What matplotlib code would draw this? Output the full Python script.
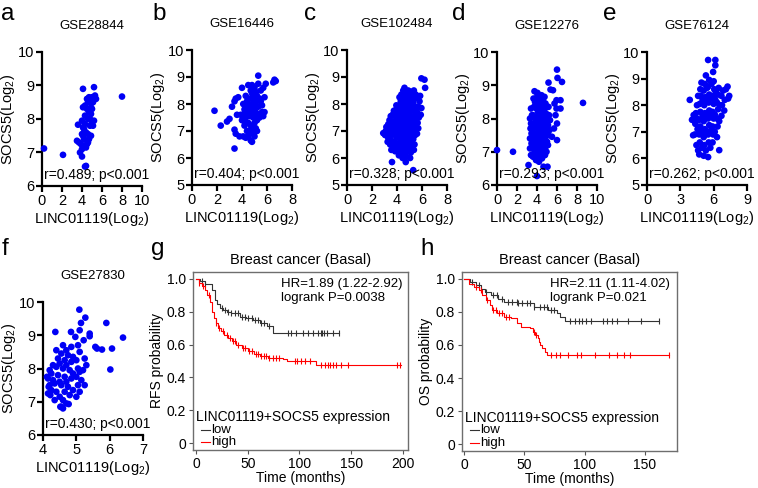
import matplotlib
matplotlib.use('Agg')
import matplotlib.pyplot as plt

plt.rcParams['font.family'] = ['Liberation Sans', 'DejaVu Sans']
plt.rcParams['mathtext.default'] = 'regular'

# ---- scatter data (LINC01119 vs SOCS5, log2) ----
gse28844 = [(0.2, 7.12), (2.1, 6.93), (8.0, 8.67), (3.6, 7.83), (4.1, 8.9), (5.2, 8.95),
            (4.0, 6.88), (3.8, 7.0), (4.3, 6.58), (4.4, 6.6), (3.5, 7.35), (3.7, 7.3),
            (4.0, 7.1), (4.2, 7.4), (4.5, 7.25), (4.7, 7.4), (4.9, 7.5), (4.8, 7.8),
            (5.1, 7.8), (5.2, 7.95), (4.6, 8.0), (4.0, 7.95), (4.2, 7.7), (4.4, 7.6),
            (4.0, 7.55), (4.3, 7.85), (4.7, 8.2), (4.9, 8.15), (5.0, 8.3), (4.6, 8.5),
            (4.8, 8.55), (4.3, 8.4), (4.1, 8.35), (4.5, 8.6), (5.0, 8.65), (5.3, 8.7),
            (5.4, 8.6), (4.7, 8.65), (5.1, 8.5), (4.6, 7.3), (4.2, 7.2), (3.9, 7.25),
            (4.1, 7.5), (4.4, 7.15), (4.6, 7.55), (5.0, 7.9), (4.8, 8.0), (4.1, 7.75),
            (4.5, 8.3), (4.3, 8.1), (4.9, 8.35)]

gse16446 = [(1.8, 7.75), (2.3, 7.2), (2.8, 7.35), (3.0, 7.45), (3.4, 6.35), (3.4, 7.05),
            (3.2, 7.9), (3.4, 8.1), (3.5, 8.2), (3.7, 8.25), (3.6, 7.6), (3.8, 6.8),
            (4.1, 6.8), (3.5, 6.9), (4.3, 6.75), (4.5, 6.8), (4.7, 6.65), (4.8, 6.6),
            (5.0, 6.8), (4.4, 7.0), (4.6, 7.0), (4.8, 7.1), (5.1, 7.1), (4.2, 7.2),
            (4.5, 7.3), (4.0, 7.4), (4.3, 7.5), (4.6, 7.55), (4.9, 7.5), (5.2, 7.4),
            (5.4, 7.5), (5.6, 7.7), (5.8, 7.7), (4.2, 7.8), (4.5, 7.9), (4.7, 7.8),
            (5.0, 7.85), (5.3, 7.9), (4.1, 8.0), (4.4, 8.1), (4.8, 8.0), (5.1, 8.05),
            (5.5, 8.1), (4.6, 8.2), (4.9, 8.3), (5.2, 8.3), (5.8, 8.25), (4.3, 8.3),
            (4.0, 8.6), (4.7, 8.5), (5.0, 8.6), (4.5, 8.7), (4.8, 8.7), (5.3, 8.75),
            (5.3, 9.05), (5.7, 8.6), (5.9, 8.75), (6.5, 8.8), (6.6, 8.9), (6.7, 8.85),
            (5.5, 8.5), (4.9, 7.6), (5.1, 7.7), (4.4, 7.6), (4.7, 7.2), (5.0, 7.3),
            (5.3, 7.6), (4.6, 7.7), (4.2, 7.65), (5.1, 8.45), (4.8, 8.4), (5.6, 7.95),
            (5.2, 7.0), (4.9, 6.9), (5.4, 8.2), (4.5, 8.0), (4.3, 7.3), (3.9, 7.6),
            (5.0, 8.15), (5.7, 7.55)]

gse102484 = [(2.9, 6.92), (3.05, 6.85), (3.1, 7.0), (3.15, 7.15),
             (3.25, 6.6), (3.3, 6.75), (3.2, 6.95), (3.35, 7.1), (3.3, 7.25), (3.4, 7.4), (3.45, 6.5),
             (3.55, 6.3), (3.6, 5.85), (3.5, 6.65), (3.55, 6.85), (3.6, 7.05), (3.5, 7.2),
             (3.65, 7.35), (3.5, 7.55), (3.65, 7.6), (3.7, 6.45), (3.7, 6.95), (3.75, 7.75),
             (3.85, 6.25), (3.9, 6.4), (3.8, 6.6), (3.95, 6.75), (3.85, 6.9), (3.9, 7.1),
             (3.8, 7.25), (3.95, 7.4), (3.85, 7.55), (3.9, 7.7), (4.0, 7.85), (3.95, 7.95),
             (4.0, 6.5), (4.0, 7.0), (4.05, 7.25),
             (4.15, 6.1), (4.2, 6.3), (4.1, 6.45), (4.25, 6.6), (4.15, 6.8), (4.3, 6.9),
             (4.1, 7.05), (4.2, 7.2), (4.3, 7.35), (4.15, 7.5), (4.25, 7.65), (4.1, 7.8),
             (4.2, 7.95), (4.3, 8.1), (4.2, 8.25), (4.35, 8.35),
             (4.45, 6.0), (4.5, 6.2), (4.4, 6.4), (4.55, 6.55), (4.45, 6.7), (4.6, 6.85),
             (4.4, 7.0), (4.5, 7.15), (4.6, 7.3), (4.45, 7.45), (4.55, 7.6), (4.4, 7.75),
             (4.5, 7.9), (4.6, 8.05), (4.45, 8.2), (4.55, 8.35), (4.5, 8.5), (4.6, 8.6),
             (4.7, 5.85), (4.75, 6.05), (4.8, 6.25), (4.7, 6.4), (4.85, 6.55), (4.75, 6.7),
             (4.9, 6.85), (4.7, 7.0), (4.8, 7.15), (4.9, 7.3), (4.75, 7.45), (4.85, 7.6),
             (4.7, 7.75), (4.8, 7.9), (4.9, 8.05), (4.75, 8.2), (4.85, 8.35), (4.9, 8.5),
             (5.05, 6.0), (5.1, 6.2), (5.0, 6.35), (5.15, 6.5), (5.05, 6.65), (5.2, 6.8),
             (5.0, 6.95), (5.1, 7.1), (5.2, 7.25), (5.05, 7.4), (5.15, 7.55), (5.0, 7.7),
             (5.1, 7.85), (5.2, 8.0), (5.05, 8.15), (5.15, 8.3), (5.1, 8.45),
             (5.3, 5.55), (5.35, 6.3), (5.4, 6.5), (5.3, 6.7), (5.45, 6.85), (5.35, 7.0),
             (5.5, 7.15), (5.3, 7.3), (5.4, 7.45), (5.5, 7.6), (5.35, 7.75), (5.45, 7.9),
             (5.3, 8.05), (5.4, 8.2), (5.5, 8.35), (5.35, 8.5),
             (5.6, 6.9), (5.7, 7.1), (5.65, 7.3), (5.75, 7.5), (5.6, 7.7), (5.7, 7.9),
             (5.8, 8.1), (5.65, 8.25), (5.85, 8.3),
             (5.9, 7.6), (5.95, 7.85), (5.95, 8.95), (6.2, 8.9), (6.25, 8.6)]

gse12276 = [(0.0, 7.05), (1.6, 7.0), (8.6, 8.47), (6.0, 9.47), (6.05, 9.22), (6.5, 9.1),
            (5.15, 9.08), (5.35, 8.87), (5.6, 8.85), (5.95, 8.55), (6.35, 8.55), (5.95, 8.3),
            (6.35, 8.3), (5.85, 8.1), (6.0, 7.85), (6.0, 7.35), (5.5, 7.45), (3.75, 8.82),
            (4.05, 8.77), (3.15, 6.6), (4.0, 6.27), (4.65, 6.55), (5.05, 6.55),
            (3.3, 7.1), (3.3, 7.4), (3.35, 7.7), (3.3, 8.0), (3.4, 8.3), (3.4, 6.9),
            (3.45, 7.55), (3.45, 7.25), (3.4, 7.85), (3.5, 8.1),
            (3.6, 6.85), (3.6, 7.1), (3.65, 7.35), (3.6, 7.6), (3.7, 7.85), (3.6, 8.1),
            (3.7, 8.35), (3.65, 8.6), (3.7, 6.95), (3.75, 7.5), (3.8, 7.2), (3.8, 7.75),
            (3.8, 8.0), (3.8, 8.5),
            (3.9, 6.75), (3.95, 7.0), (3.9, 7.3), (4.0, 7.55), (3.9, 7.8), (4.0, 8.05),
            (3.95, 8.3), (4.0, 8.55), (4.05, 8.7), (4.1, 6.9), (4.1, 7.15), (4.1, 7.45),
            (4.1, 7.7), (4.1, 7.95), (4.1, 8.2), (4.1, 8.45),
            (4.2, 6.7), (4.25, 7.0), (4.2, 7.3), (4.3, 7.55), (4.2, 7.8), (4.3, 8.05),
            (4.2, 8.3), (4.3, 8.55), (4.35, 6.85), (4.35, 7.2), (4.4, 7.45), (4.4, 7.7),
            (4.4, 7.95), (4.4, 8.2), (4.4, 8.45), (4.45, 8.7),
            (4.5, 6.8), (4.55, 7.05), (4.5, 7.3), (4.6, 7.55), (4.5, 7.8), (4.6, 8.05),
            (4.5, 8.3), (4.6, 8.55), (4.65, 6.95), (4.7, 7.2), (4.7, 7.45), (4.7, 7.7),
            (4.7, 7.95), (4.7, 8.25), (4.75, 8.65),
            (4.8, 6.9), (4.85, 7.15), (4.8, 7.4), (4.9, 7.65), (4.8, 7.9), (4.9, 8.15),
            (4.85, 8.45), (4.95, 7.0), (5.0, 7.3), (5.0, 7.55), (5.0, 7.85), (5.0, 8.05),
            (5.0, 8.35), (5.1, 7.2), (5.15, 7.5), (5.1, 7.8), (5.2, 8.1), (5.15, 8.35),
            (5.25, 7.65), (5.3, 7.95), (5.7, 7.7), (5.75, 8.45)]

gse76124 = [(3.85, 8.2), (4.15, 6.87), (4.05, 7.45), (4.2, 7.63),
            (4.3, 6.9), (4.35, 7.3), (4.4, 7.7), (4.5, 8.0), (4.45, 6.5), (4.55, 7.1),
            (4.5, 7.5), (4.6, 8.35), (4.6, 6.3),
            (4.7, 6.15), (4.75, 6.6), (4.7, 6.9), (4.8, 7.2), (4.7, 7.45), (4.8, 7.75),
            (4.75, 8.05), (4.85, 8.35), (4.8, 8.6), (4.9, 8.85), (4.95, 6.4), (4.95, 7.0),
            (5.0, 7.6), (5.0, 8.2),
            (5.1, 6.1), (5.15, 6.5), (5.1, 6.8), (5.2, 7.1), (5.1, 7.4), (5.2, 7.7),
            (5.15, 8.0), (5.25, 8.3), (5.1, 8.55), (5.2, 8.8), (5.3, 9.12), (5.3, 6.3),
            (5.35, 6.95), (5.35, 7.55), (5.4, 8.15), (5.4, 8.65),
            (5.5, 6.05), (5.55, 6.6), (5.5, 6.9), (5.6, 7.25), (5.5, 7.5), (5.6, 7.8),
            (5.55, 8.1), (5.6, 8.4), (5.5, 8.7), (5.6, 8.95), (5.7, 6.4), (5.75, 7.05),
            (5.7, 7.65), (5.75, 8.25), (5.8, 8.8),
            (5.9, 6.6), (5.95, 6.9), (5.9, 7.2), (6.0, 7.5), (5.9, 7.75), (6.0, 8.05),
            (5.95, 8.35), (6.05, 8.6), (6.0, 8.9), (6.1, 7.0), (6.1, 7.65), (6.15, 8.2),
            (6.2, 8.5),
            (6.3, 6.8), (6.35, 7.2), (6.3, 7.5), (6.4, 7.85), (6.3, 8.1), (6.4, 8.4),
            (6.45, 8.65), (6.5, 7.4), (6.55, 8.0), (6.5, 6.31),
            (6.7, 7.6), (6.75, 8.0), (6.7, 8.35), (6.85, 8.55), (6.95, 7.8), (7.0, 8.2),
            (7.1, 8.6), (7.25, 8.7), (7.4, 8.35), (7.3, 8.25),
            (5.5, 9.7), (6.15, 9.7), (6.15, 9.5), (5.95, 9.25)]

gse27830 = [(4.12, 7.75), (4.17, 7.45), (4.22, 7.2), (4.15, 7.25), (4.2, 7.5), (4.15, 7.7),
            (4.2, 7.95), (4.25, 7.35), (4.3, 7.65), (4.3, 8.1), (4.25, 7.85),
            (4.35, 7.05), (4.4, 7.3), (4.35, 7.55), (4.45, 7.8), (4.4, 8.05), (4.45, 8.3),
            (4.4, 8.55), (4.37, 9.1), (4.5, 7.15), (4.5, 7.6), (4.5, 8.15), (4.52, 6.85),
            (4.55, 6.85), (4.6, 6.8), (4.6, 7.05), (4.65, 7.3), (4.55, 7.5), (4.65, 7.75),
            (4.6, 8.0), (4.65, 8.25), (4.55, 8.45), (4.6, 8.7), (4.7, 6.95), (4.7, 7.6),
            (4.7, 8.1), (4.7, 8.55),
            (4.77, 6.93), (4.8, 7.2), (4.75, 7.45), (4.85, 7.7), (4.8, 7.95), (4.85, 8.2),
            (4.75, 8.4), (4.85, 8.65), (4.9, 7.35), (4.9, 7.85), (4.9, 8.35), (4.84, 9.1),
            (4.97, 8.95),
            (5.0, 7.15), (5.05, 7.5), (5.0, 7.75), (5.05, 8.0), (5.0, 8.25), (5.1, 8.5),
            (5.05, 8.7), (5.1, 7.3), (5.1, 7.9), (5.1, 9.15), (5.14, 9.37), (5.09, 9.77),
            (5.15, 7.65), (5.2, 7.95), (5.25, 8.3), (5.22, 8.85), (5.3, 8.1), (5.27, 9.53),
            (5.25, 7.5),
            (5.4, 9.05), (5.4, 8.97), (5.57, 8.65), (5.62, 8.6), (5.77, 8.57), (6.07, 8.6),
            (6.02, 7.97), (5.9, 9.37), (6.4, 8.93)]

# ---- Kaplan-Meier curves (Breast cancer, Basal) ----
rfs_low_t = [0, 4, 9, 15, 18, 20, 23, 26, 30, 34, 42, 48, 55, 62, 69, 74]
rfs_low_s = [1.0, 0.985, 0.965, 0.93, 0.87, 0.845, 0.82, 0.81, 0.80, 0.79, 0.77, 0.76, 0.75, 0.73, 0.71, 0.67]
rfs_low_end = 138
rfs_low_cens = [6, 9, 25, 28, 31, 34, 38, 41, 44, 47, 50, 54, 57, 60, 63, 66, 71,
                89, 92, 97, 103, 108, 113, 118, 121, 122, 124, 127, 132, 138]
rfs_high_t = [0, 3, 6, 9, 11, 13, 15, 17, 19, 21, 24, 27, 31, 35, 39, 44, 50, 56, 62, 70, 84, 88, 116]
rfs_high_s = [1.0, 0.975, 0.955, 0.93, 0.90, 0.86, 0.80, 0.76, 0.73, 0.70, 0.68, 0.66, 0.64,
              0.62, 0.60, 0.58, 0.56, 0.545, 0.53, 0.52, 0.51, 0.50, 0.475]
rfs_high_end = 198
rfs_high_cens = [3, 7, 12, 19, 22, 26, 30, 33, 36, 38, 41, 45, 47, 51, 54, 58, 60, 63, 66,
                 68, 71, 74, 77, 80, 96, 98, 101, 105, 110, 121, 125, 128, 130, 132, 135,
                 140, 147, 194, 197]

os_low_t = [0, 5, 10, 14, 17, 22, 28, 33, 45, 58, 70, 77, 80, 84]
os_low_s = [1.0, 0.98, 0.96, 0.94, 0.92, 0.90, 0.88, 0.86, 0.85, 0.83, 0.81, 0.79, 0.77, 0.747]
os_low_end = 162
os_low_cens = [6, 12, 18, 24, 27, 31, 36, 40, 44, 45, 48, 52, 55, 58, 63, 66, 69, 72, 75,
               88, 92, 95, 98, 101, 105, 115, 119, 123, 127, 136, 147, 162]
os_high_t = [0, 4, 8, 12, 15, 18, 21, 23, 27, 33, 39, 44, 47, 55, 57, 59, 61, 62, 63, 65, 67, 69]
os_high_s = [1.0, 0.97, 0.95, 0.93, 0.90, 0.87, 0.84, 0.81, 0.79, 0.77, 0.76, 0.73, 0.71,
             0.70, 0.68, 0.66, 0.64, 0.62, 0.60, 0.58, 0.56, 0.537]
os_high_end = 170
os_high_cens = [10, 14, 19, 24, 26, 29, 31, 35, 37, 58, 60, 72, 76, 80, 86, 94, 97, 109,
                120, 127, 133, 138, 170]

W, H = 758, 488
fig = plt.figure(figsize=(W / 100, H / 100), dpi=100)


def rect(l, t, r, b):
    return [l / W, 1 - b / H, (r - l) / W, (b - t) / H]


def ftext(x, y, s, **kw):
    fig.text(x / W, 1 - y / H, s, **kw)


def scatter_panel(box, pts, xlim, xticks, ylim, yticks, title, stat, letter, lpos):
    l, t, r, b = box
    ax = fig.add_axes(rect(*box))
    ax.scatter([p[0] for p in pts], [p[1] for p in pts], s=23, color='#0000f5',
               edgecolors='none', clip_on=False, zorder=3)
    ax.set_xlim(xlim)
    ax.set_ylim(ylim)
    ax.set_xticks(xticks)
    ax.set_yticks(yticks)
    ax.spines['top'].set_visible(False)
    ax.spines['right'].set_visible(False)
    ax.spines['left'].set_linewidth(1.6)
    ax.spines['bottom'].set_linewidth(1.6)
    ax.tick_params(width=1.6, length=4, labelsize=10.5, pad=1.5)
    ax.set_ylabel('SOCS5(Log$_2$)', fontsize=10.5, labelpad=1)
    ax.set_xlabel('LINC01119(Log$_2$)', fontsize=10.5, labelpad=2)
    ftext((l + r) / 2, t - 26, title, fontsize=9.5, ha='center', va='center')
    ftext(l + 2, b - 11, stat, fontsize=10, ha='left', va='center', zorder=5)
    ftext(lpos[0], lpos[1], letter, fontsize=17.5, ha='left', va='baseline')
    return ax


scatter_panel((42, 52, 142, 186), gse28844, (0, 10), range(0, 11, 2), (6, 10), range(6, 11),
              'GSE28844', 'r=0.489; p<0.001', 'a', (1, 20))
scatter_panel((192, 50, 292, 185), gse16446, (0, 8), range(0, 9, 2), (5, 10), range(5, 11),
              'GSE16446', 'r=0.404; p<0.001', 'b', (152, 20))
scatter_panel((347, 50, 447, 185), gse102484, (0, 8), range(0, 9, 2), (5, 10), range(5, 11),
              'GSE102484', 'r=0.328; p<0.001', 'c', (304, 20))
scatter_panel((497, 52, 597, 185), gse12276, (0, 10), range(0, 11, 2), (6, 10), range(6, 11),
              'GSE12276', 'r=0.293; p<0.001', 'd', (452, 20))
scatter_panel((647, 52, 747, 185), gse76124, (0, 9), range(0, 10, 3), (5, 10), range(5, 11),
              'GSE76124', 'r=0.262; p<0.001', 'e', (603, 20))
scatter_panel((43, 302, 143, 435), gse27830, (4, 7), range(4, 8), (6, 10), range(6, 11),
              'GSE27830', 'r=0.430; p<0.001', 'f', (2, 255))


def surv_at(t, times, surv):
    s = surv[0]
    for ti, si in zip(times, surv):
        if ti <= t:
            s = si
    return s


def km_panel(box, xlim, xticks, curves, ylabel, hr, letter, lpos):
    ax = fig.add_axes(rect(*box))
    for times, surv, end, cens, col in curves:
        ax.step(list(times) + [end], list(surv) + [surv[-1]], where='post', color=col, lw=0.8)
        ax.plot(cens, [surv_at(c, times, surv) for c in cens], linestyle='none',
                marker='|', ms=5, mew=0.8, color=col)
    ax.set_xlim(xlim)
    ax.set_ylim(-0.04, 1.04)
    ax.set_xticks(xticks)
    ax.set_yticks([0, 0.2, 0.4, 0.6, 0.8, 1.0])
    ax.set_yticklabels(['0', '0.2', '0.4', '0.6', '0.8', '1.0'])
    for s in ax.spines.values():
        s.set_color('#6e6e6e')
        s.set_linewidth(1.0)
    ax.tick_params(length=3, width=0.8, color='#555555', labelsize=10, pad=2)
    ax.set_ylabel(ylabel, fontsize=10, labelpad=2)
    ax.set_xlabel('Time (months)', fontsize=10, labelpad=0)
    ax.set_title('Breast cancer (Basal)', fontsize=10.5, pad=6)
    ax.text(0.41, 0.965, hr, transform=ax.transAxes, fontsize=9.5, va='top', ha='left',
            linespacing=1.15)
    ax.text(0.012, 0.185, 'LINC01119+SOCS5 expression', transform=ax.transAxes,
            fontsize=10, va='center', ha='left')
    for yy, lab, col in [(0.115, 'low', '#333333'), (0.045, 'high', '#ff0000')]:
        ax.plot([0.035, 0.08], [yy, yy], transform=ax.transAxes, color=col, lw=0.8)
        ax.text(0.085, yy, lab, transform=ax.transAxes, fontsize=9.5, va='center', ha='left')
    ftext(lpos[0], lpos[1], letter, fontsize=17.5, ha='left', va='baseline')
    return ax


km_panel((193, 272, 408, 450), (-3, 205), range(0, 201, 50),
         [(rfs_low_t, rfs_low_s, rfs_low_end, rfs_low_cens, '#333333'),
          (rfs_high_t, rfs_high_s, rfs_high_end, rfs_high_cens, '#ff0000')],
         'RFS probability', 'HR=1.89 (1.22-2.92)\nlogrank P=0.0038', 'g', (151, 255))
km_panel((462, 272, 677, 451), (-2, 177), range(0, 151, 50),
         [(os_low_t, os_low_s, os_low_end, os_low_cens, '#333333'),
          (os_high_t, os_high_s, os_high_end, os_high_cens, '#ff0000')],
         'OS probability', 'HR=2.11 (1.11-4.02)\nlogrank P=0.021', 'h', (420, 255))

fig.savefig('out.png', dpi=100)
